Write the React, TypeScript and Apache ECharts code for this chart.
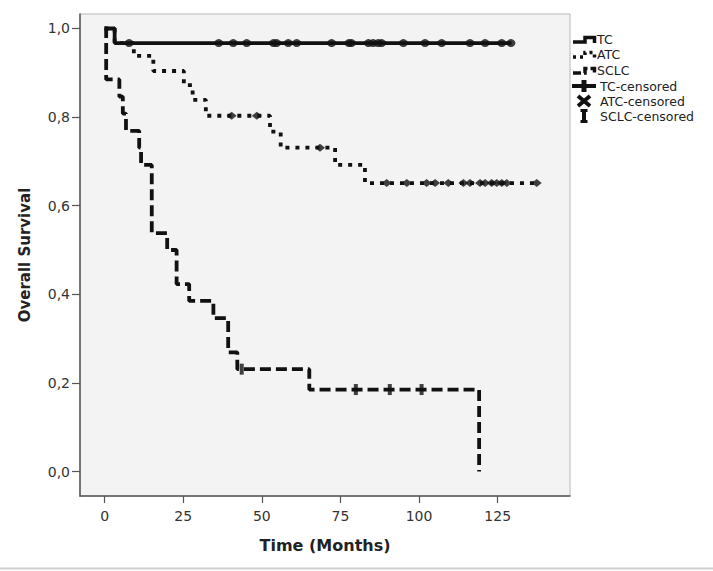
import React, { useEffect, useRef } from "react";
import * as echarts from "echarts";

// Kaplan-Meier step data (time in months, survival after event)
const tcTimes = [0, 3.2, 129.4];
const tcSurv = [1.0, 0.967, 0.967];
const tcCensored = [7.8, 36.3, 40.9, 45.2, 53.7, 54.7, 58.4, 61.1, 72.2, 77.7, 78.5, 83.9, 85.4, 87.0, 88.1, 95.0, 101.9, 107.2, 116.2, 121.0, 126.3, 129.2];

const atcTimes = [0, 3.2, 9.3, 15.5, 25.2, 28.0, 32.2, 52.6, 56.0, 73.3, 82.8, 137.5];
const atcSurv = [1.0, 0.967, 0.938, 0.904, 0.872, 0.839, 0.803, 0.767, 0.731, 0.692, 0.651, 0.651];
const atcCensored = [40.4, 48.4, 68.5, 89.7, 96.1, 102.4, 105.1, 109.3, 114.1, 116.2, 119.4, 121.0, 123.1, 124.7, 126.3, 127.9, 137.4];

const sclcTimes = [0, 0.5, 4.7, 5.8, 6.8, 11.0, 11.6, 15.0, 19.9, 22.9, 26.9, 34.6, 39.3, 42.2, 65.1, 119.1];
const sclcSurv = [1.0, 0.885, 0.846, 0.808, 0.769, 0.731, 0.692, 0.538, 0.5, 0.423, 0.385, 0.346, 0.269, 0.231, 0.185, 0.0];
const sclcCensored = [43.6, 79.9, 90.7, 100.8];

const xTicks = [0, 25, 50, 75, 100, 125];
const yTicks = [0, 0.2, 0.4, 0.6, 0.8, 1.0];

const legendLabels = ["TC", "ATC", "SCLC", "TC-censored", "ATC-censored", "SCLC-censored"];

function pairs(t: number[], s: number[]) {
  return t.map((v, i) => [v, s[i]]);
}
function levelAt(t: number[], s: number[], x: number) {
  let lv = s[0];
  for (let i = 0; i < t.length; i++) if (t[i] <= x) lv = s[i];
  return lv;
}
function censorPts(t: number[], s: number[], c: number[]) {
  return c.map((x) => [x, levelAt(t, s, x)]);
}

const FONT = "DejaVu Sans";

export default function App() {
  const ref = useRef<HTMLDivElement>(null);
  useEffect(() => {
    if (!ref.current) return;
    const chart = echarts.init(ref.current, null, { renderer: "svg" });
    const lw = 3.8;
    const lineBase = (name: string, data: number[][], type: any) => ({
      name,
      type: "line",
      step: "end",
      data,
      symbol: "none",
      lineStyle: { color: "#111", width: lw, type, cap: "butt" },
      z: 3,
    });
    const ly = [39, 54, 70, 86, 101, 116];
    const legendGraphics: any[] = [];
    const st = { stroke: "#111", lineWidth: 3.5, fill: null as any };
    legendGraphics.push({
      type: "polyline",
      shape: { points: [[573, ly[0] + 3], [585, ly[0] + 3], [585, ly[0] - 1.5], [594.5, ly[0] - 1.5], [594.5, ly[0] + 4]] },
      style: { ...st },
    });
    legendGraphics.push({
      type: "polyline",
      shape: { points: [[573, ly[1] + 3], [585, ly[1] + 3], [585, ly[1] - 1.5], [594.5, ly[1] - 1.5], [594.5, ly[1] + 4]] },
      style: { ...st, lineDash: [3, 4] },
    });
    legendGraphics.push({
      type: "polyline",
      shape: { points: [[573, ly[2] + 3], [585, ly[2] + 3], [585, ly[2] - 1.5], [594.5, ly[2] - 1.5], [594.5, ly[2] + 4]] },
      style: { ...st, lineDash: [8, 3] },
    });
    // TC-censored: plus
    legendGraphics.push({ type: "line", shape: { x1: 572, y1: ly[3], x2: 596, y2: ly[3] }, style: { stroke: "#111", lineWidth: 4 } });
    legendGraphics.push({ type: "line", shape: { x1: 584, y1: ly[3] - 6, x2: 584, y2: ly[3] + 6 }, style: { stroke: "#111", lineWidth: 5 } });
    // ATC-censored: X
    legendGraphics.push({ type: "line", shape: { x1: 578, y1: ly[4] - 5, x2: 590, y2: ly[4] + 5 }, style: { stroke: "#111", lineWidth: 4 } });
    legendGraphics.push({ type: "line", shape: { x1: 578, y1: ly[4] + 5, x2: 590, y2: ly[4] - 5 }, style: { stroke: "#111", lineWidth: 4 } });
    // SCLC-censored: I
    legendGraphics.push({ type: "line", shape: { x1: 584, y1: ly[5] - 6, x2: 584, y2: ly[5] + 6 }, style: { stroke: "#111", lineWidth: 4 } });
    legendGraphics.push({ type: "line", shape: { x1: 580.5, y1: ly[5] - 5.5, x2: 587.5, y2: ly[5] - 5.5 }, style: { stroke: "#111", lineWidth: 3 } });
    legendGraphics.push({ type: "line", shape: { x1: 580.5, y1: ly[5] + 5.5, x2: 587.5, y2: ly[5] + 5.5 }, style: { stroke: "#111", lineWidth: 3 } });
    legendLabels.forEach((lab, i) => {
      legendGraphics.push({
        type: "text",
        x: i < 3 ? 597 : 600,
        y: ly[i],
        style: { text: lab, fontFamily: FONT, fontSize: 12.5, fill: "#222", verticalAlign: "middle", align: "left" },
      });
    });
    legendGraphics.push({ type: "line", shape: { x1: 0, y1: 568.5, x2: 713, y2: 568.5 }, style: { stroke: "#d0d0d0", lineWidth: 2 } });

    chart.setOption({
      animation: false,
      backgroundColor: "#fff",
      grid: {
        left: 80,
        top: 14,
        width: 490,
        height: 482,
        show: true,
        backgroundColor: "#f3f3f3",
        borderColor: "#b8b8b8",
        borderWidth: 1,
      },
      xAxis: {
        type: "value",
        min: -7.82,
        max: 148,
        name: "Time (Months)",
        nameLocation: "middle",
        nameGap: 41,
        nameTextStyle: { fontFamily: FONT, fontSize: 16, fontWeight: "bold", color: "#222" },
        axisLine: { show: true, onZero: false, lineStyle: { color: "#555", width: 1.5 } },
        axisTick: { show: true, length: 7, customValues: xTicks, lineStyle: { color: "#555", width: 1.2 } },
        axisLabel: { customValues: xTicks, margin: 13, fontFamily: FONT, fontSize: 14, color: "#333" },
        splitLine: { show: false },
      },
      yAxis: {
        type: "value",
        min: -0.0553,
        max: 1.0327,
        name: "Overall Survival",
        nameLocation: "middle",
        nameGap: 48,
        nameRotate: 90,
        nameTextStyle: { fontFamily: FONT, fontSize: 15, fontWeight: "bold", color: "#222" },
        axisLine: { show: true, onZero: false, lineStyle: { color: "#555", width: 1.5 } },
        axisTick: { show: true, length: 8, customValues: yTicks, lineStyle: { color: "#555", width: 1.2 } },
        axisLabel: {
          customValues: yTicks,
          margin: 10,
          fontFamily: FONT,
          fontSize: 14,
          color: "#333",
          formatter: (v: number) => v.toFixed(1).replace(".", ","),
        },
        splitLine: { show: false },
      },
      series: [
        lineBase("TC", pairs(tcTimes, tcSurv), "solid"),
        lineBase("ATC", pairs(atcTimes, atcSurv), [4, 6]),
        lineBase("SCLC", pairs(sclcTimes, sclcSurv), [11, 5]),
        {
          name: "TC-censored",
          type: "scatter",
          data: censorPts(tcTimes, tcSurv, tcCensored),
          symbol: "circle",
          symbolSize: [9, 8],
          itemStyle: { color: "#111" },
          z: 4,
        },
        {
          name: "ATC-censored",
          type: "scatter",
          data: censorPts(atcTimes, atcSurv, atcCensored),
          symbol: "diamond",
          symbolSize: [10, 8],
          itemStyle: { color: "#111" },
          z: 4,
        },
        {
          name: "SCLC-censored",
          type: "scatter",
          data: censorPts(sclcTimes, sclcSurv, sclcCensored),
          symbol: "rect",
          symbolSize: [4, 11],
          itemStyle: { color: "#111" },
          z: 4,
        },
      ],
      graphic: legendGraphics,
    });
    return () => chart.dispose();
  }, []);
  return <div ref={ref} style={{ position: "fixed", left: 0, top: 0, width: 713, height: 571 }} />;
}
